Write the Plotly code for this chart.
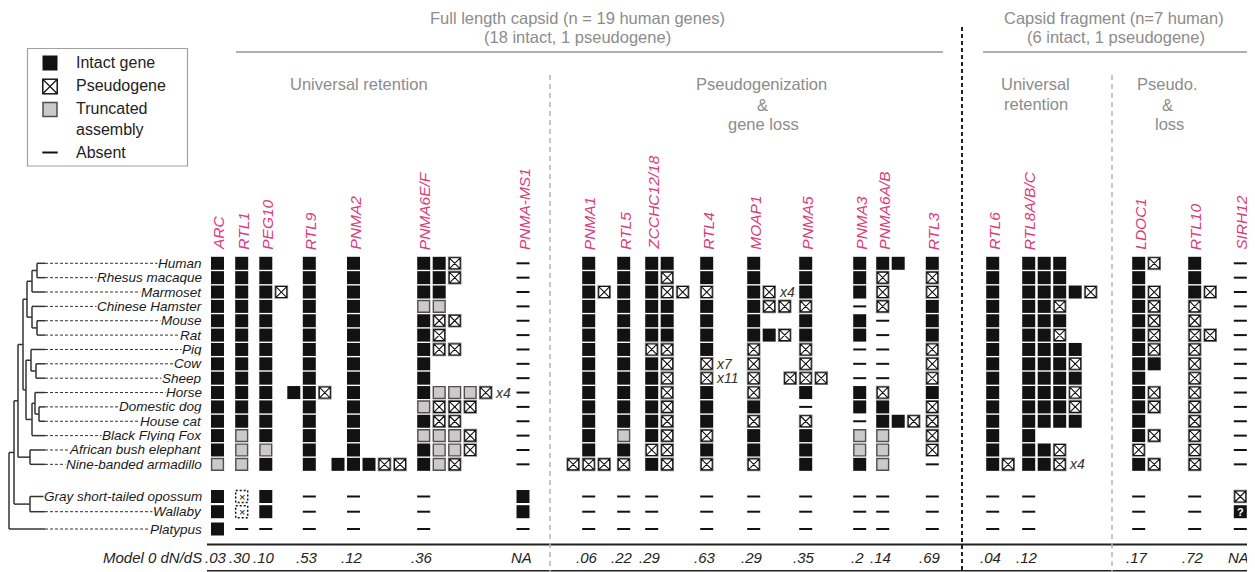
import plotly.graph_objects as go

# ---------------- DATA ----------------
SPECIES = ["Human", "Rhesus macaque", "Marmoset", "Chinese Hamster", "Mouse", "Rat",
           "Pig", "Cow", "Sheep", "Horse", "Domestic dog", "House cat",
           "Black Flying Fox", "African bush elephant", "Nine-banded armadillo",
           "Gray short-tailed opossum", "Wallaby", "Platypus"]

GENES = ["ARC", "RTL1", "PEG10", "RTL9", "PNMA2", "PNMA6E/F", "PNMA-MS1",
         "PNMA1", "RTL5", "ZCCHC12/18", "RTL4", "MOAP1", "PNMA5", "PNMA3",
         "PNMA6A/B", "RTL3", "RTL6", "RTL8A/B/C", "LDOC1", "RTL10", "SIRH12"]

DNDS = [".03", ".30", ".10", ".53", ".12", ".36", "NA",
        ".06", ".22", ".29", ".63", ".29", ".35", ".2",
        ".14", ".69", ".04", ".12", ".17", ".72", "NA"]

# number of extra copies drawn to the left of the main column
LEAD = [0, 0, 0, 1, 1, 0, 0, 1, 0, 0, 0, 0, 1, 0, 0, 0, 0, 0, 0, 0, 0]

# Status per species row (I intact, P pseudogene, T truncated, - absent,
# D uncertain (dotted) pseudogene, Q unknown/intact '?', space = nothing)
STATUS = {
    "ARC":        "I|I|I|I|I|I|I|I|I|I|I|I|I|I|T|I|I|I",
    "RTL1":       "I|I|I|I|I|I|I|I|I|I|I|I|T|T|T|D|D|-",
    "PEG10":      "I|I|IP|I|I|I|I|I|I|I|I|I|I|T|I|I|I|-",
    "RTL9":       " I| I| I| I| I| I| I| I| I|IIP| I| I| I| I| I| -| -| -",
    "PNMA2":      " I| I| I| I| I| I| I| I| I| I| I| I| I| I|IIIPP| -| -| -",
    "PNMA6E/F":   "IIP|IIP|II|TT|IPP|IP|IPP|I|I|ITTTP|TPPP|IPP|TTTP|ITTP|ITP|-|-|-",
    "PNMA-MS1":   "-|-|-|-|-|-|-|-|-|-|-|-|-|-|-|I|I|-",
    "PNMA1":      " I| I| IP| I| I| I| I| I| I| I| I| I| I| I|PPP| -| -| -",
    "RTL5":       "I|I|I|I|I|I|I|I|I|I|I|I|T|I|P|-|-|-",
    "ZCCHC12/18": "II|IP|IPP|II|II|II|PP|IP|IP|IP|IP|IP|IP|PP|IP|-|-|-",
    "RTL4":       "I|I|P|I|I|I|I|P|P|I|I|I|P|I|P|-|-|-",
    "MOAP1":      "I|I|IP|IPP|I|IIP|P|P|P|P|I|P|I|I|P|-|-|-",
    "PNMA5":      " I| I| I| P| I| I| P| P|PPP| I| -| P| I| I| I| -| -| -",
    "PNMA3":      "I|I|I|-|I|I|-|-|-|I|I|-|T|T|I|-|-|-",
    "PNMA6A/B":   "II|P|P|P|-|-|-|-|-|P|I|IIP|T|T|T|-|-|-",
    "RTL3":       "I|P|P|I|I|I|P|P|P|I|P|P|P|P|-|-|-|-",
    "RTL6":       "I|I|I|I|I|I|I|I|I|I|I|I|I|I|IP|-|-|-",
    "RTL8A/B/C":  "III|III|IIIIP|IIP|III|IIP|IIII|IIIP|IIII|IIIP|IIIP|IIII|I|IIP|IIP|-|-|-",
    "LDOC1":      "IP|I|IP|IP|IP|IP|IP|II|I|IP|IP|I|IP|P|IP|-|-|-",
    "RTL10":      "I|I|IP|P|P|PP|P|P|P|P|P|P|P|P|P|-|-|-",
    "SIRH12":     "-|-|-|-|-|-|-|-|-|-|-|-|-|-|-|P|Q|-",
}

# copy-number notes (gene, species row) -> text
NOTES = {("PNMA6E/F", 9): "x4", ("RTL4", 7): "x7", ("RTL4", 8): "x11",
         ("MOAP1", 2): "x4", ("RTL8A/B/C", 14): "x4"}

# species tree: (node x, children); leaves are species row indices
TREE = (9, [(14, [(18, [(23, [(27, [(32, [(37, [0, 1]), 2]),
                                     (32, [3, (37, [4, 5])])]),
                              (26, [(31, [6, (36, [7, 8])]),
                                    (32, [(35, [9, (39, [10, 11])]), 12])])]),
                        (30, [13, 14])]),
                  (30, [15, 16])]),
            17])

# ---------------- LAYOUT ----------------
W, H = 1255, 572
OFF = 8          # page body margin of the html page
GENE_X = [217.5, 241.7, 265.8, 309.3, 353.5, 423.7, 523.0, 588.7, 623.7, 651.7,
          706.7, 753.7, 805.7, 859.7, 882.7, 932.3, 992.7, 1028.7, 1138.7,
          1194.7, 1240.3]
ROW_Y = [263.3 + i * 14.36 for i in range(15)] + [496.5, 511.7, 529.0]
STEP = 15.5
LEAF_X = 45
LABEL_X = 203
FONT = "Arial, Liberation Sans, sans-serif"
PINK = "#dc3c78"
GRAY = "#8c8c8c"
INK = "#121212"

fig = go.Figure()
shapes = []
ann = []

def line(x0, y0, x1, y1, color="#333", width=1.5, dash=None):
    d = dict(type="line", x0=x0, y0=y0, x1=x1, y1=y1, xref="x", yref="y",
             line=dict(color=color, width=width))
    if dash:
        d["line"]["dash"] = dash
    shapes.append(d)

def text(x, y, t, size=15, color="#222", xa="center", ya="middle", angle=0,
         bg=None, italic=False):
    a = dict(x=x, y=y, xref="x", yref="y", text=f"<i>{t}</i>" if italic else t,
             showarrow=False, xanchor=xa, yanchor=ya, textangle=angle,
             font=dict(family=FONT, size=size, color=color), borderpad=0)
    if bg:
        a["bgcolor"] = bg
    ann.append(a)

# ---------------- cells ----------------
pts = {k: ([], []) for k in "IPT-DQ"}
for gi, g in enumerate(GENES):
    rows = STATUS[g].split("|")
    for ri, s in enumerate(rows):
        for k, ch in enumerate(s):
            if ch == " ":
                continue
            x = GENE_X[gi] + (k - LEAD[gi]) * STEP
            pts[ch][0].append(x)
            pts[ch][1].append(ROW_Y[ri])
        if (g, ri) in NOTES:
            xl = GENE_X[gi] + (len(s) - 1 - LEAD[gi]) * STEP + 8.5
            text(xl, ROW_Y[ri], NOTES[(g, ri)], size=14, color="#333", xa="left",
                 italic=True)

def add_markers(xs, ys, **marker):
    fig.add_trace(go.Scatter(x=xs, y=ys, mode="markers", marker=marker,
                             hoverinfo="skip", showlegend=False))

add_markers(*pts["I"], symbol="square", size=13, color=INK, line=dict(width=0))
add_markers(*pts["Q"], symbol="square", size=13, color=INK, line=dict(width=0))
add_markers(*pts["T"], symbol="square", size=11.8, color="#cbc9c9",
            line=dict(width=1.4, color="#4f4f4f"))
add_markers(*pts["P"], symbol="square", size=12.2, color="white",
            line=dict(width=1.5, color="#8a8a8a"))
add_markers(*pts["P"], symbol="square-x-open", size=11, color=INK,
            line=dict(width=1.1, color=INK))
add_markers(*pts["-"], symbol="line-ew", size=9.3, color=INK,
            line=dict(width=2, color=INK))
for x, y in zip(*pts["D"]):
    shapes.append(dict(type="rect", x0=x - 6, x1=x + 6, y0=y - 6, y1=y + 6,
                       xref="x", yref="y",
                       line=dict(color=INK, width=1.5, dash="2px,2px")))
    text(x, y, "×", size=11, color=INK)
for x, y in zip(*pts["Q"]):
    text(x, y + 0.5, "<b>?</b>", size=11, color="white")

# ---------------- tree ----------------
def draw(node):
    if isinstance(node, int):
        return ROW_Y[node], LEAF_X
    nx, children = node
    ys = []
    for c in children:
        cy, cx = draw(c)
        line(nx, cy, cx, cy)
        ys.append(cy)
    line(nx, min(ys), nx, max(ys))
    return (min(ys) + max(ys)) / 2, nx

draw(TREE)
for i, sp in enumerate(SPECIES):
    line(LEAF_X, ROW_Y[i], LABEL_X - 3, ROW_Y[i], color="#333", width=1, dash="3px,2px")
    text(LABEL_X, ROW_Y[i], sp, size=13.5, color="#1a1a1a", xa="right", bg="white",
         italic=True)

# ---------------- gene labels & dN/dS ----------------
for gi, g in enumerate(GENES):
    text(GENE_X[gi] + 1, 251, g, size=15.5, color=PINK, ya="bottom", angle=-90,
         italic=True)
    text(GENE_X[gi] - 2, 557, DNDS[gi], size=15, color="#222", italic=True)
text(LABEL_X, 557, "Model 0 dN/dS", size=15, color="#222", xa="right", italic=True)
line(207, 544.5, W, 544.5, color="#222", width=2)
line(207, 570.7, W, 570.7, color="#222", width=1.5)

# ---------------- section headers ----------------
text(577.5, 18, "Full length capsid (n = 19 human genes)", size=16.5, color=GRAY)
text(577.5, 37, "(18 intact, 1 pseudogene)", size=16.5, color=GRAY)
text(1114, 18, "Capsid fragment (n=7 human)", size=16.5, color=GRAY)
text(1116, 37, "(6 intact, 1 pseudogene)", size=16.5, color=GRAY)
line(236, 52, 943, 52, color="#b0b0b0", width=2)
line(983, 52, 1251, 52, color="#b0b0b0", width=2)
text(358.5, 84, "Universal retention", size=16.5, color=GRAY)
text(761, 84, "Pseudogenization", size=16.5, color=GRAY)
text(762, 105, "&", size=16.5, color=GRAY)
text(763, 124, "gene loss", size=16.5, color=GRAY)
text(1035, 84, "Universal", size=16.5, color=GRAY)
text(1036, 104, "retention", size=16.5, color=GRAY)
text(1167, 84, "Pseudo.", size=16.5, color=GRAY)
text(1167, 105, "&", size=16.5, color=GRAY)
text(1169, 124, "loss", size=16.5, color=GRAY)
line(962, 27, 962, H, color="#222", width=2, dash="4px,3px")
line(550, 75, 550, H, color="#b5b5b5", width=1.5, dash="5px,4px")
line(1112, 75, 1112, H, color="#b5b5b5", width=1.5, dash="5px,4px")

# ---------------- legend ----------------
shapes.append(dict(type="rect", x0=27.5, x1=187.5, y0=48.5, y1=166, xref="x", yref="y",
                   line=dict(color="#a0a0a0", width=1.2)))
LX = 50
add_markers([LX], [63], symbol="square", size=15, color=INK, line=dict(width=0))
add_markers([LX], [86.5], symbol="square", size=14.5, color="white",
            line=dict(width=1.3, color="#555"))
add_markers([LX], [86.5], symbol="square-x-open", size=14.5, color=INK,
            line=dict(width=1.2, color=INK))
add_markers([LX], [109.5], symbol="square", size=14, color="#cbc9c9",
            line=dict(width=1.5, color="#4f4f4f"))
add_markers([LX], [152.5], symbol="line-ew", size=11, color=INK,
            line=dict(width=2, color=INK))
for yy, t in [(62, "Intact gene"), (85.5, "Pseudogene"), (108.5, "Truncated"),
              (129, "assembly"), (152, "Absent")]:
    text(75, yy, t, size=16, color="#222", xa="left")

fig.update_layout(
    width=W - OFF, height=H - OFF, margin=dict(l=0, r=0, t=0, b=0),
    paper_bgcolor="white", plot_bgcolor="white", showlegend=False,
    xaxis=dict(range=[OFF, W], visible=False, fixedrange=True),
    yaxis=dict(range=[H, OFF], visible=False, fixedrange=True),
    shapes=shapes, annotations=ann,
)
fig.write_html("out.html")
